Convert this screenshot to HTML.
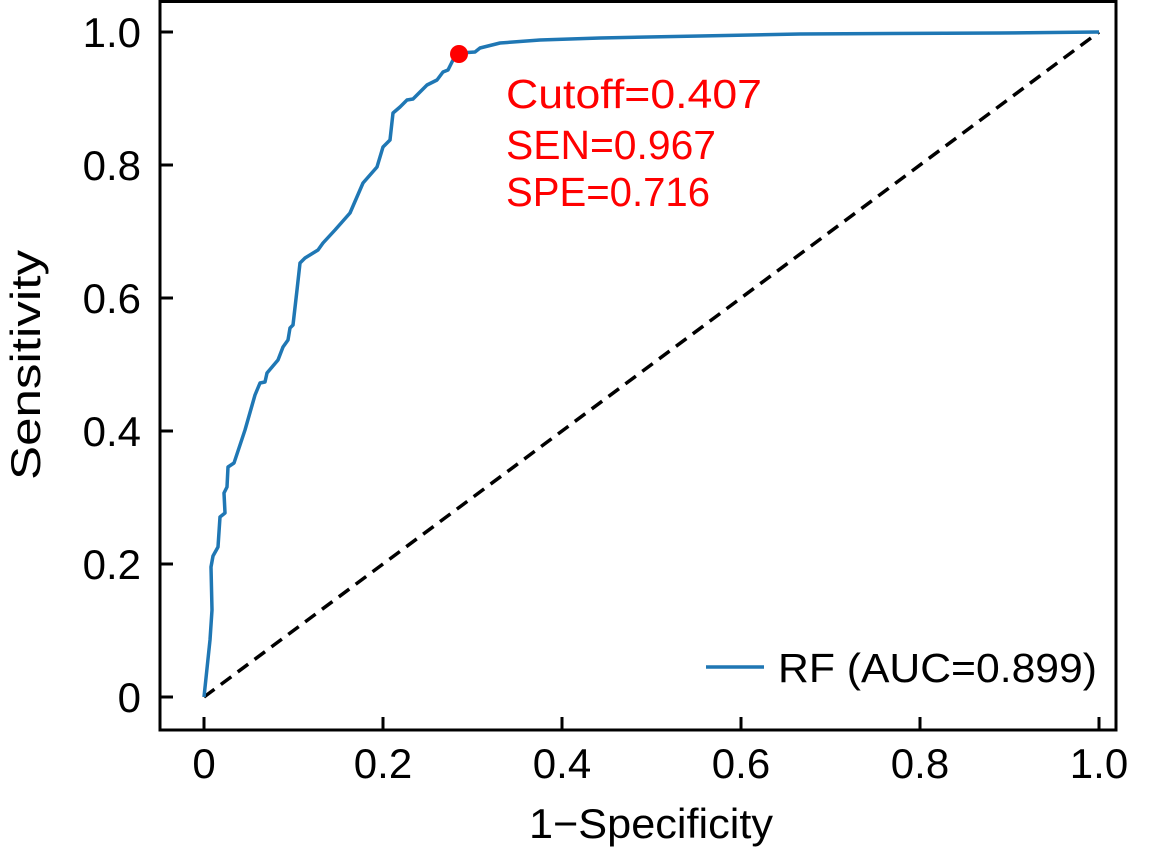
<!DOCTYPE html>
<html><head><meta charset="utf-8"><style>html,body{margin:0;padding:0;background:#fff}svg{display:block}</style></head>
<body>
<svg width="1152" height="855" viewBox="0 0 1152 855" xmlns="http://www.w3.org/2000/svg" font-family="Liberation Sans, sans-serif">
<rect width="1152" height="855" fill="#fff"/>
<line x1="204" y1="697" x2="1099" y2="32" stroke="#000" stroke-width="3.5" stroke-dasharray="13,8"/>
<polyline fill="none" stroke="#1f77b4" stroke-width="3.5" stroke-linejoin="round" points="204,697 210,640 212,610 211,567 213,556 218,547 220,517 225,513 224,493 227,487 228,467 234,463 245,430 255,395 260,383 265,382 267,373 278,360 283,347 288,340 290,328 293,325 297,290 300,263 305,258 318,250 323,243 335,230 350,213 363,183 377,167 383,147 390,140 393,113 400,107 407,100 413,99 427,85 437,80 443,72 448,70 453,60 460,53 475,52 480,48 500,43 540,40 600,38 700,36 800,34 1000,33 1099,32"/>
<circle cx="459" cy="54" r="9" fill="#ff0000"/>
<g fill="#ff0000" font-size="41">
<text x="506" y="108" textLength="256" lengthAdjust="spacingAndGlyphs">Cutoff=0.407</text>
<text x="506" y="159" textLength="210" lengthAdjust="spacingAndGlyphs">SEN=0.967</text>
<text x="506" y="206" textLength="204" lengthAdjust="spacingAndGlyphs">SPE=0.716</text>
</g>
<rect x="160" y="1.5" width="956" height="728.5" fill="none" stroke="#000" stroke-width="3"/>
<g stroke="#000" stroke-width="3">
<line x1="160" y1="697" x2="173" y2="697"/><line x1="160" y1="564" x2="173" y2="564"/>
<line x1="160" y1="431" x2="173" y2="431"/><line x1="160" y1="298" x2="173" y2="298"/>
<line x1="160" y1="165" x2="173" y2="165"/><line x1="160" y1="32" x2="173" y2="32"/>
<line x1="204" y1="730" x2="204" y2="717"/><line x1="383" y1="730" x2="383" y2="717"/>
<line x1="562" y1="730" x2="562" y2="717"/><line x1="741" y1="730" x2="741" y2="717"/>
<line x1="920" y1="730" x2="920" y2="717"/><line x1="1099" y1="730" x2="1099" y2="717"/>
</g>
<g font-size="42" fill="#000" text-anchor="end">
<text x="141" y="712">0</text><text x="141" y="579">0.2</text><text x="141" y="446">0.4</text>
<text x="141" y="313">0.6</text><text x="141" y="180">0.8</text><text x="141" y="47">1.0</text>
</g>
<g font-size="42" fill="#000" text-anchor="middle">
<text x="204" y="778">0</text><text x="383" y="778">0.2</text><text x="562" y="778">0.4</text>
<text x="741" y="778">0.6</text><text x="920" y="778">0.8</text><text x="1099" y="778">1.0</text>
<text x="651" y="838" textLength="244" lengthAdjust="spacingAndGlyphs">1−Specificity</text>
<text transform="translate(40,365) rotate(-90)" textLength="230" lengthAdjust="spacingAndGlyphs">Sensitivity</text>
</g>
<line x1="706" y1="667" x2="764" y2="667" stroke="#1f77b4" stroke-width="3.5"/>
<text x="778" y="682" font-size="41" fill="#000" textLength="319" lengthAdjust="spacingAndGlyphs">RF (AUC=0.899)</text>
</svg>
</body></html>
